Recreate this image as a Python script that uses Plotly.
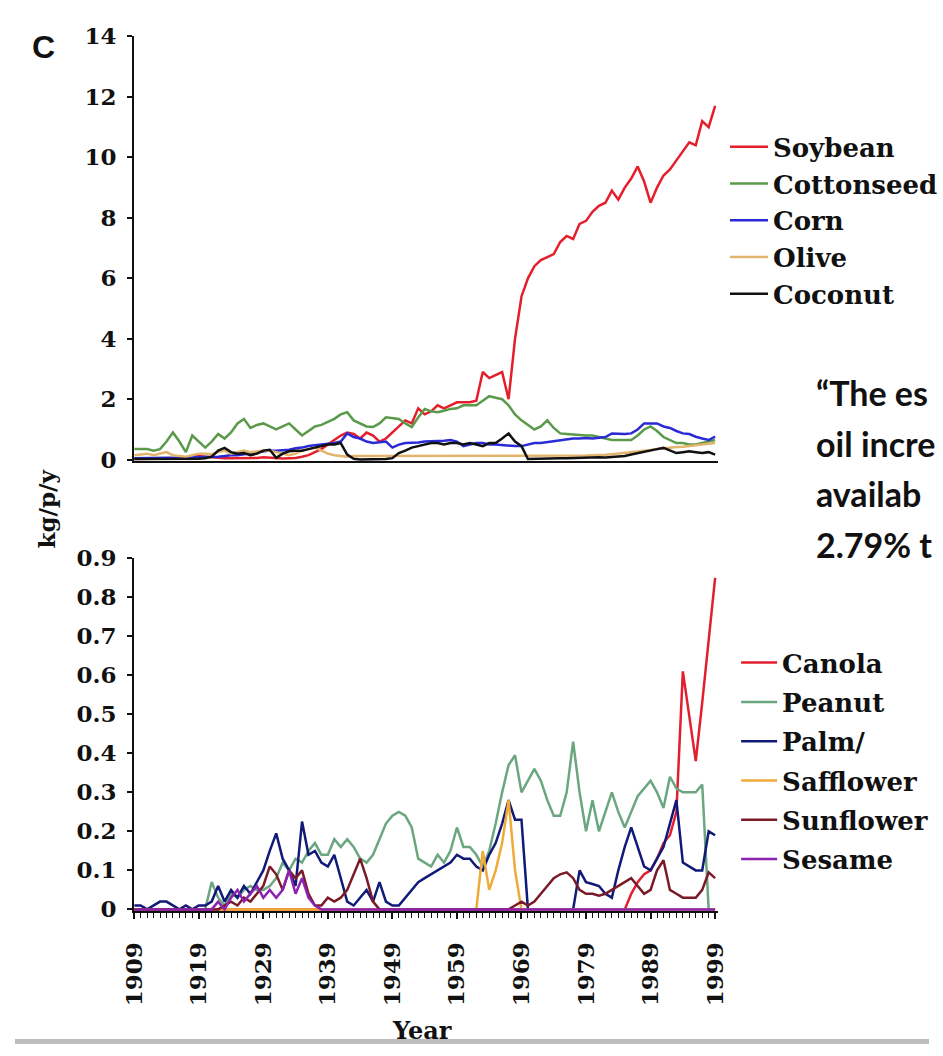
import plotly.graph_objects as go

W, H = 943, 1056

years = list(range(1909, 2000))

# ---- upper panel: major vegetable oils (kg per person per year) ----
soybean = [
    0.02, 0.02, 0.02, 0.02, 0.03, 0.03, 0.04, 0.05, 0.08, 0.10, 0.12,
    0.10, 0.08, 0.06, 0.05, 0.05, 0.05, 0.06, 0.05, 0.06, 0.08,
    0.06, 0.05, 0.04, 0.05, 0.06, 0.10, 0.15, 0.25, 0.35, 0.50,
    0.65, 0.80, 0.90, 0.85, 0.70, 0.90, 0.80, 0.60, 0.70, 0.90,
    1.10, 1.30, 1.20, 1.70, 1.50, 1.60, 1.80, 1.70, 1.80, 1.90,
    1.90, 1.90, 1.95, 2.90, 2.70, 2.80, 2.90, 2.00, 4.00, 5.40,
    6.00, 6.40, 6.60, 6.70, 6.80, 7.20, 7.40, 7.30, 7.80, 7.90,
    8.20, 8.40, 8.50, 8.90, 8.60, 9.00, 9.30, 9.70, 9.20, 8.50,
    9.00, 9.40, 9.60, 9.90, 10.2, 10.5, 10.4, 11.2, 11.0, 11.7,
]
cottonseed = [
    0.35, 0.35, 0.35, 0.30, 0.35, 0.60, 0.90, 0.60, 0.25, 0.80, 0.60,
    0.40, 0.60, 0.85, 0.70, 0.90, 1.20, 1.35, 1.05, 1.15, 1.20,
    1.10, 1.00, 1.10, 1.20, 1.00, 0.80, 0.95, 1.10, 1.15, 1.25,
    1.35, 1.50, 1.57, 1.30, 1.20, 1.10, 1.08, 1.20, 1.40, 1.38,
    1.35, 1.20, 1.08, 1.40, 1.68, 1.60, 1.57, 1.62, 1.68, 1.70,
    1.80, 1.80, 1.80, 1.95, 2.10, 2.05, 2.00, 1.80, 1.50, 1.30,
    1.15, 1.00, 1.10, 1.30, 1.05, 0.87, 0.85, 0.83, 0.82, 0.80,
    0.80, 0.75, 0.70, 0.65, 0.65, 0.65, 0.65, 0.80, 1.00, 1.10,
    0.95, 0.75, 0.65, 0.55, 0.55, 0.50, 0.50, 0.55, 0.60, 0.65,
]
corn = [
    0.05, 0.05, 0.05, 0.05, 0.05, 0.06, 0.06, 0.07, 0.07, 0.08, 0.08,
    0.08, 0.10, 0.10, 0.12, 0.15, 0.15, 0.18, 0.20, 0.25, 0.28,
    0.30, 0.30, 0.32, 0.33, 0.38, 0.40, 0.45, 0.47, 0.50, 0.52,
    0.55, 0.60, 0.87, 0.75, 0.70, 0.60, 0.55, 0.58, 0.60, 0.40,
    0.50, 0.55, 0.55, 0.57, 0.60, 0.60, 0.62, 0.63, 0.65, 0.60,
    0.45, 0.50, 0.55, 0.55, 0.50, 0.50, 0.48, 0.45, 0.45, 0.45,
    0.50, 0.55, 0.55, 0.58, 0.60, 0.62, 0.65, 0.70, 0.70, 0.72,
    0.70, 0.72, 0.75, 0.87, 0.85, 0.85, 0.87, 1.00, 1.20, 1.20,
    1.20, 1.10, 1.05, 0.95, 0.87, 0.85, 0.76, 0.70, 0.65, 0.76,
]
olive = [
    0.15, 0.18, 0.20, 0.15, 0.20, 0.25, 0.15, 0.12, 0.10, 0.15, 0.20,
    0.20, 0.18, 0.25, 0.30, 0.20, 0.25, 0.30, 0.25, 0.28, 0.30,
    0.30, 0.25, 0.20, 0.15, 0.20, 0.30, 0.35, 0.40, 0.30, 0.20,
    0.15, 0.12, 0.10, 0.12, 0.12, 0.12, 0.13, 0.13, 0.12, 0.12,
    0.12, 0.12, 0.12, 0.12, 0.12, 0.12, 0.12, 0.12, 0.12, 0.12,
    0.12, 0.12, 0.12, 0.12, 0.12, 0.12, 0.12, 0.12, 0.12, 0.12,
    0.12, 0.12, 0.12, 0.12, 0.12, 0.12, 0.12, 0.12, 0.13, 0.14,
    0.15, 0.15, 0.16, 0.18, 0.20, 0.22, 0.25, 0.28, 0.30, 0.32,
    0.35, 0.38, 0.40, 0.42, 0.43, 0.45, 0.47, 0.50, 0.52, 0.55,
]
coconut = [
    0.02, 0.02, 0.02, 0.02, 0.02, 0.03, 0.03, 0.03, 0.02, 0.02, 0.03,
    0.05, 0.10, 0.30, 0.39, 0.25, 0.20, 0.22, 0.15, 0.20, 0.30,
    0.33, 0.06, 0.20, 0.28, 0.30, 0.30, 0.35, 0.40, 0.45, 0.50,
    0.50, 0.55, 0.17, 0.03, 0.01, 0.01, 0.02, 0.03, 0.02, 0.05,
    0.22, 0.30, 0.40, 0.45, 0.50, 0.55, 0.55, 0.50, 0.55, 0.55,
    0.50, 0.55, 0.50, 0.45, 0.55, 0.55, 0.70, 0.87, 0.60, 0.45,
    0.02, 0.03, 0.04, 0.05, 0.05, 0.05, 0.05, 0.06, 0.06, 0.06,
    0.07, 0.08, 0.07, 0.08, 0.10, 0.12, 0.17, 0.22, 0.25, 0.30,
    0.35, 0.39, 0.30, 0.22, 0.25, 0.28, 0.25, 0.22, 0.25, 0.17,
]

# ---- lower panel: minor vegetable oils (kg per person per year) ----
canola = [0.0] * 77 + [
    0.04, 0.07, 0.09, 0.10, 0.13, 0.17, 0.19, 0.25, 0.61, 0.49, 0.38, 0.53, 0.69, 0.85,
]
peanut = [
    0.0, 0.0, 0.0, 0.0, 0.0, 0.0, 0.0, 0.0, 0.0, 0.0, 0.0,
    0.0, 0.07, 0.03, 0.01, 0.04, 0.03, 0.05, 0.06, 0.05, 0.05,
    0.06, 0.08, 0.12, 0.10, 0.13, 0.12, 0.15, 0.17, 0.14, 0.14,
    0.18, 0.16, 0.18, 0.16, 0.13, 0.12, 0.14, 0.18, 0.22, 0.24,
    0.25, 0.24, 0.21, 0.13, 0.12, 0.11, 0.14, 0.12, 0.15, 0.21,
    0.16, 0.16, 0.14, 0.11, 0.15, 0.22, 0.30, 0.37, 0.395, 0.30,
    0.33, 0.36, 0.33, 0.28, 0.24, 0.24, 0.30, 0.43, 0.30, 0.20,
    0.28, 0.20, 0.25, 0.30, 0.25, 0.21, 0.25, 0.29, 0.31, 0.33,
    0.30, 0.26, 0.34, 0.31, 0.30, 0.30, 0.30, 0.32, 0.0, 0.0,
]
palm = [
    0.01, 0.01, 0.0, 0.01, 0.02, 0.02, 0.01, 0.0, 0.01, 0.0, 0.01,
    0.01, 0.02, 0.06, 0.02, 0.05, 0.03, 0.06, 0.04, 0.07, 0.10,
    0.15, 0.195, 0.13, 0.10, 0.06, 0.225, 0.14, 0.15, 0.12, 0.11,
    0.14, 0.08, 0.02, 0.01, 0.03, 0.05, 0.02, 0.07, 0.02, 0.01,
    0.01, 0.03, 0.05, 0.07, 0.08, 0.09, 0.10, 0.11, 0.12, 0.14,
    0.13, 0.13, 0.11, 0.10, 0.14, 0.17, 0.22, 0.28, 0.23, 0.23,
    0.0, 0.0, 0.0, 0.0, 0.0, 0.0, 0.0, 0.0, 0.10, 0.07,
    0.065, 0.06, 0.04, 0.03, 0.10, 0.16, 0.21, 0.16, 0.11, 0.10,
    0.13, 0.16, 0.22, 0.28, 0.12, 0.11, 0.10, 0.10, 0.20, 0.19,
]
safflower = [0.0] * 53 + [0.0, 0.15, 0.05, 0.10, 0.17, 0.28, 0.10, 0.0] + [0.0] * 30
sunflower = [
    0.0, 0.0, 0.0, 0.0, 0.0, 0.0, 0.0, 0.0, 0.0, 0.0, 0.0,
    0.0, 0.0, 0.0, 0.01, 0.02, 0.01, 0.03, 0.02, 0.04, 0.06,
    0.11, 0.09, 0.05, 0.10, 0.08, 0.10, 0.04, 0.01, 0.01, 0.03,
    0.02, 0.03, 0.05, 0.09, 0.13, 0.08, 0.02, 0.0, 0.0, 0.0,
    0.0, 0.0, 0.0, 0.0, 0.0, 0.0, 0.0, 0.0, 0.0, 0.0,
    0.0, 0.0, 0.0, 0.0, 0.0, 0.0, 0.0, 0.0, 0.01, 0.02,
    0.01, 0.02, 0.04, 0.06, 0.08, 0.09, 0.095, 0.08, 0.05, 0.04,
    0.04, 0.035, 0.04, 0.05, 0.06, 0.07, 0.08, 0.06, 0.04, 0.05,
    0.10, 0.126, 0.05, 0.04, 0.03, 0.03, 0.03, 0.05, 0.095, 0.08,
]
sesame = [
    0.0, 0.0, 0.0, 0.0, 0.0, 0.0, 0.0, 0.0, 0.0, 0.0, 0.0,
    0.0, 0.0, 0.02, 0.0, 0.03, 0.05, 0.02, 0.04, 0.06, 0.03,
    0.05, 0.03, 0.05, 0.10, 0.04, 0.08, 0.03, 0.01, 0.0, 0.0,
] + [0.0] * 60

upper_names = ["Soybean", "Cottonseed", "Corn", "Olive", "Coconut"]
upper_values = [soybean, cottonseed, corn, olive, coconut]
upper_colors = ["#e41f2b", "#5b9a4a", "#2a2ad6", "#e2b46c", "#111111"]

lower_names = ["Canola", "Peanut", "Palm/", "Safflower", "Sunflower", "Sesame"]
lower_values = [canola, peanut, palm, safflower, sunflower, sesame]
lower_colors = ["#e21f2e", "#6aa67f", "#111a78", "#f0aa38", "#7a1a26", "#8c22b0"]

upper_ticks = [0, 2, 4, 6, 8, 10, 12, 14]
lower_ticks = [0, 0.1, 0.2, 0.3, 0.4, 0.5, 0.6, 0.7, 0.8, 0.9]

# quotation block at the right-hand edge of the page
quote_lines = [
    "\u201cThe es",
    "oil incre",
    "availab",
    "2.79% t",
]

SERIF = "DejaVu Serif"


def px(x):
    return x / W


def py(y):
    return 1 - y / H


fig = go.Figure()

for name, vals, col in zip(upper_names, upper_values, upper_colors):
    fig.add_trace(go.Scatter(
        x=years, y=vals, name=name, mode="lines",
        line=dict(color=col, width=2.5),
        xaxis="x", yaxis="y", legend="legend", legendgroup=name,
    ))

for name, vals, col in zip(lower_names, lower_values, lower_colors):
    fig.add_trace(go.Scatter(
        x=years, y=vals, name=name, mode="lines",
        line=dict(color=col, width=2.5),
        xaxis="x2", yaxis="y2", legend="legend2", legendgroup=name,
    ))

tick_font = dict(family=SERIF, size=23, color="#111111", weight="bold")
legend_font = dict(family=SERIF, size=26, color="#111111", weight="bold")
x_dom = [px(123), px(725)]
x_range = [1909, 1999.4]

axis_common = dict(
    showline=True, linecolor="#111111", linewidth=2,
    showgrid=False, zeroline=False,
)

fig.update_layout(
    width=W, height=H,
    margin=dict(l=0, r=0, t=0, b=0),
    paper_bgcolor="white", plot_bgcolor="white",
    showlegend=True,
    xaxis=dict(
        domain=x_dom, range=x_range, anchor="y",
        ticks="", showticklabels=False, **axis_common,
    ),
    yaxis=dict(
        domain=[py(458.5), py(23)], range=[-0.05, 14], anchor="x",
        tickmode="array", tickvals=upper_ticks,
        ticks="outside", ticklen=5, tickwidth=2, tickcolor="#111111",
        tickfont=tick_font, ticklabelstandoff=6, **axis_common,
    ),
    xaxis2=dict(
        domain=x_dom, range=x_range, anchor="y2",
        tick0=1909, dtick=10, ticks="outside", ticklen=6, tickwidth=1.5,
        tickcolor="#111111", tickangle=-90, tickfont=tick_font,
        ticklabelstandoff=14,
        minor=dict(ticks="outside", ticklen=5, tick0=1909, dtick=1,
                   tickwidth=1.2, tickcolor="#111111"),
        **axis_common,
    ),
    yaxis2=dict(
        domain=[py(919.6), py(558)], range=[-0.004, 0.9], anchor="x2",
        tickmode="array", tickvals=lower_ticks,
        ticktext=[("%g" % v) for v in lower_ticks],
        ticks="outside", ticklen=5, tickwidth=2, tickcolor="#111111",
        tickfont=tick_font, ticklabelstandoff=6, **axis_common,
    ),
    legend=dict(
        x=px(733), y=py(112), xanchor="left", yanchor="top",
        font=legend_font, bgcolor="rgba(0,0,0,0)",
        tracegroupgap=0, itemwidth=38,
    ),
    legend2=dict(
        x=px(744), y=py(641), xanchor="left", yanchor="top",
        font=legend_font, bgcolor="rgba(0,0,0,0)",
        tracegroupgap=2.5, itemwidth=36,
    ),
)

annotations = [
    dict(text="C", x=px(29), y=py(34), xref="paper", yref="paper",
         showarrow=False, xanchor="center", yanchor="middle",
         font=dict(family="Liberation Sans", size=32, color="#111111", weight="bold")),
    dict(text="kg/p/y", x=px(33), y=py(507), xref="paper", yref="paper",
         showarrow=False, textangle=-90, xanchor="center", yanchor="middle",
         font=dict(family=SERIF, size=23, color="#111111", weight="bold")),
    dict(text="Year", x=px(420), y=py(1042), xref="paper", yref="paper",
         showarrow=False, xanchor="center", yanchor="middle",
         font=dict(family=SERIF, size=24, color="#111111", weight="bold")),
]
for i, line in enumerate(quote_lines):
    annotations.append(dict(
        text=line, x=px(824), y=py(388 + 52 * i), xref="paper", yref="paper",
        showarrow=False, xanchor="left", yanchor="middle", align="left",
        font=dict(family="Lato", size=34, color="#111111", weight="bold"),
    ))
fig.update_layout(annotations=annotations)

# thin grey strip along the lower edge of the page
fig.add_shape(type="rect", xref="paper", yref="paper",
              x0=0, x1=1, y0=0, y1=py(1051), fillcolor="#bdbdbd",
              line=dict(width=0), layer="above")

fig.write_html("out.html")
